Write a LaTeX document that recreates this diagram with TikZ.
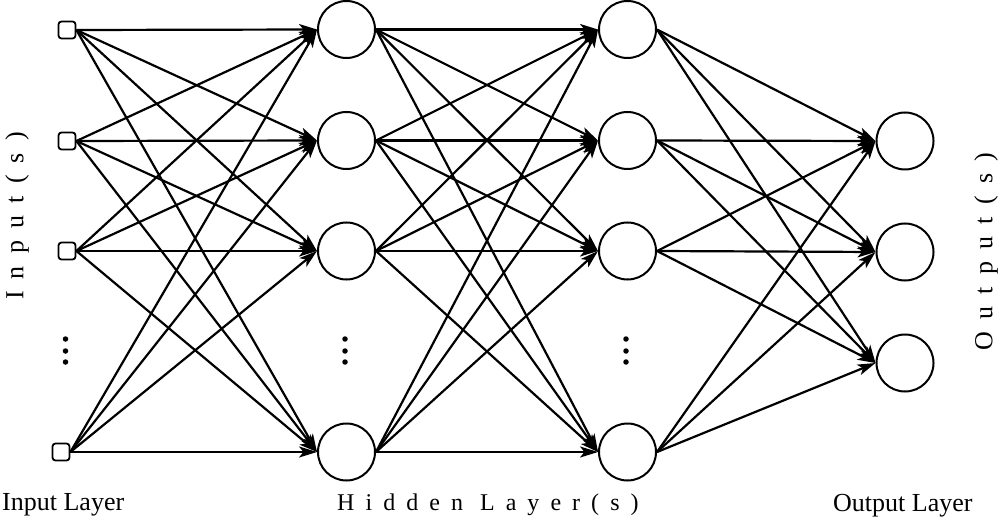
\documentclass[tikz,border=0pt]{standalone}
\usepackage{fontspec}
\setmainfont{Liberation Serif}
\usetikzlibrary{arrows.meta}
\begin{document}
\begin{tikzpicture}[x=1pt,y=-1pt,
  inp/.style={draw,line width=1.8pt,rounded corners=3pt,minimum size=17pt,inner sep=0pt},
  neuron/.style={circle,draw,line width=2pt,minimum size=57pt,inner sep=0pt},
  conn/.style={line width=2.2pt,-{Stealth[length=18pt,width=11pt,inset=4.5pt]}},
  dotc/.style={circle,fill,minimum size=5.5pt,inner sep=0pt},
  lbl/.style={font=\fontsize{26}{30}\selectfont,inner sep=0pt},
  spaced/.style={font=\fontsize{24}{28}\selectfont\addfontfeatures{LetterSpace=46},inner sep=0pt},
  vspaced/.style={font=\fontsize{26}{30}\selectfont\addfontfeatures{LetterSpace=47},inner sep=0pt,rotate=90}]
\useasboundingbox (0,0) rectangle (1000,518);
% input squares
\node[inp] (i1) at (67,30) {};
\node[inp] (i2) at (67,141) {};
\node[inp] (i3) at (67,251) {};
\node[inp] (i4) at (61,452) {};
% hidden layer 1
\node[neuron] (h1) at (346.5,29.5) {};
\node[neuron] (h2) at (346.5,140.5) {};
\node[neuron] (h3) at (346.5,251) {};
\node[neuron] (h4) at (346.5,452) {};
% hidden layer 2
\node[neuron] (g1) at (627.5,29.5) {};
\node[neuron] (g2) at (627.5,140.5) {};
\node[neuron] (g3) at (627.5,251) {};
\node[neuron] (g4) at (627.5,452) {};
% output
\node[neuron] (o1) at (905,141) {};
\node[neuron] (o2) at (905,252) {};
\node[neuron] (o3) at (905,363) {};
% dots
\foreach \x/\n in {65.5/a,345/b,626/c}{
  \node[dotc] (\n1) at (\x,339) {};
  \node[dotc] (\n2) at (\x,351) {};
  \node[dotc] (\n3) at (\x,362) {};
}
% connections
\foreach \a in {1,...,4}{
  \foreach \b in {1,...,4}{
    \draw[conn] (i\a.east) -- (h\b.west);
    \draw[conn] (h\a.east) -- (g\b.west);
  }
  \foreach \b in {1,...,3}{
    \draw[conn] (g\a.east) -- (o\b.west);
  }
}
% labels
\node[lbl,anchor=base west] (linput) at (2,510) {Input Layer};
\node[spaced,anchor=base west] (lhidden) at (337,510) {Hidden Layer(s)};
\node[lbl,anchor=base west] (loutput) at (833,511) {Output Layer};
\node[vspaced] (vin) at (17,216) {Input(s)};
\node[vspaced] (vout) at (986,251.5) {Output(s)};
\end{tikzpicture}
\end{document}
